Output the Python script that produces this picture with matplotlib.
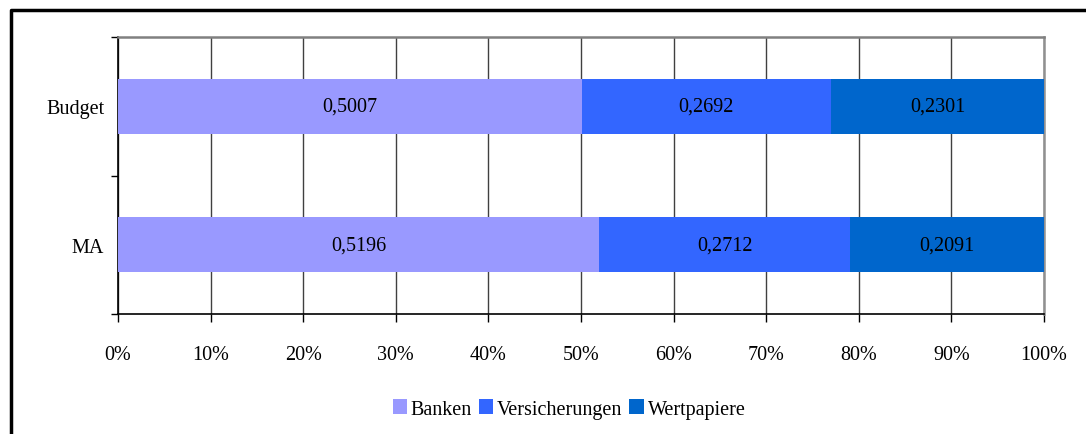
import numpy as np
import matplotlib.pyplot as plt
from matplotlib.lines import Line2D

plt.rcParams['font.family'] = ['Liberation Serif', 'DejaVu Serif']

# Data
categories = ['MA', 'Budget']
series_names = ['Banken', 'Versicherungen', 'Wertpapiere']
banken = [0.5196, 0.5007]
versicherungen = [0.2712, 0.2692]
wertpapiere = [0.2091, 0.2301]
colors = ['#9999FF', '#3366FF', '#0066CC']
x_ticks = [0, 10, 20, 30, 40, 50, 60, 70, 80, 90, 100]

values = np.array([banken, versicherungen, wertpapiere])
totals = values.sum(axis=0)
shares = values / totals * 100

fig = plt.figure(figsize=(10.86, 4.35), dpi=100)
ax = fig.add_axes([118 / 1086, 1 - 315 / 435, 926 / 1086, 277 / 435])

# Stacked 100% bars
y = np.arange(len(categories))
left = np.zeros(len(categories))
for i, name in enumerate(series_names):
    ax.barh(y, shares[i], left=left, height=0.4, color=colors[i],
            label=name, zorder=3)
    for j in range(len(categories)):
        ax.text(left[j] + shares[i][j] / 2, y[j],
                ('%.4f' % values[i][j]).replace('.', ','),
                ha='center', va='center', fontsize=14.5, zorder=4)
    left += shares[i]

ax.set_xlim(0, 100)
ax.set_ylim(-0.5, 1.5)

# Axes styling
ax.set_xticks(x_ticks)
ax.set_xticklabels(['%d%%' % t for t in x_ticks])
ax.set_yticks([-0.5, 0.5, 1.5])
ax.set_yticklabels([])
ax.set_yticks(y, minor=True)
ax.set_yticklabels(categories, minor=True)
ax.tick_params(axis='y', which='minor', length=0, pad=10, labelsize=14.5)
ax.tick_params(axis='y', which='major', length=5, width=1, color='black')
ax.tick_params(axis='x', length=6, width=1, pad=16, labelsize=14.5)
ax.xaxis.grid(True, color='#404040', linewidth=1, zorder=0)

ax.spines['left'].set_color('black')
ax.spines['bottom'].set_color('black')
ax.spines['top'].set_color('#808080')
ax.spines['right'].set_color('#909090')
for s in ax.spines.values():
    s.set_linewidth(1.2)
ax.spines['top'].set_linewidth(1.8)
ax.spines['right'].set_linewidth(1.8)

# Legend
fig.legend(loc='center', bbox_to_anchor=(569 / 1086, 1 - 410 / 435),
           ncol=3, frameon=False, fontsize=14.5, handlelength=0.7,
           handleheight=0.7, handletextpad=0.2, columnspacing=0.35)

# Outer frame (left and top edges visible)
fig.add_artist(Line2D([11 / 1086, 11 / 1086, 1.0], [0.0, 1 - 11 / 435, 1 - 11 / 435],
                      transform=fig.transFigure, color='black', linewidth=2.5))

fig.savefig('out.png', dpi=100)
